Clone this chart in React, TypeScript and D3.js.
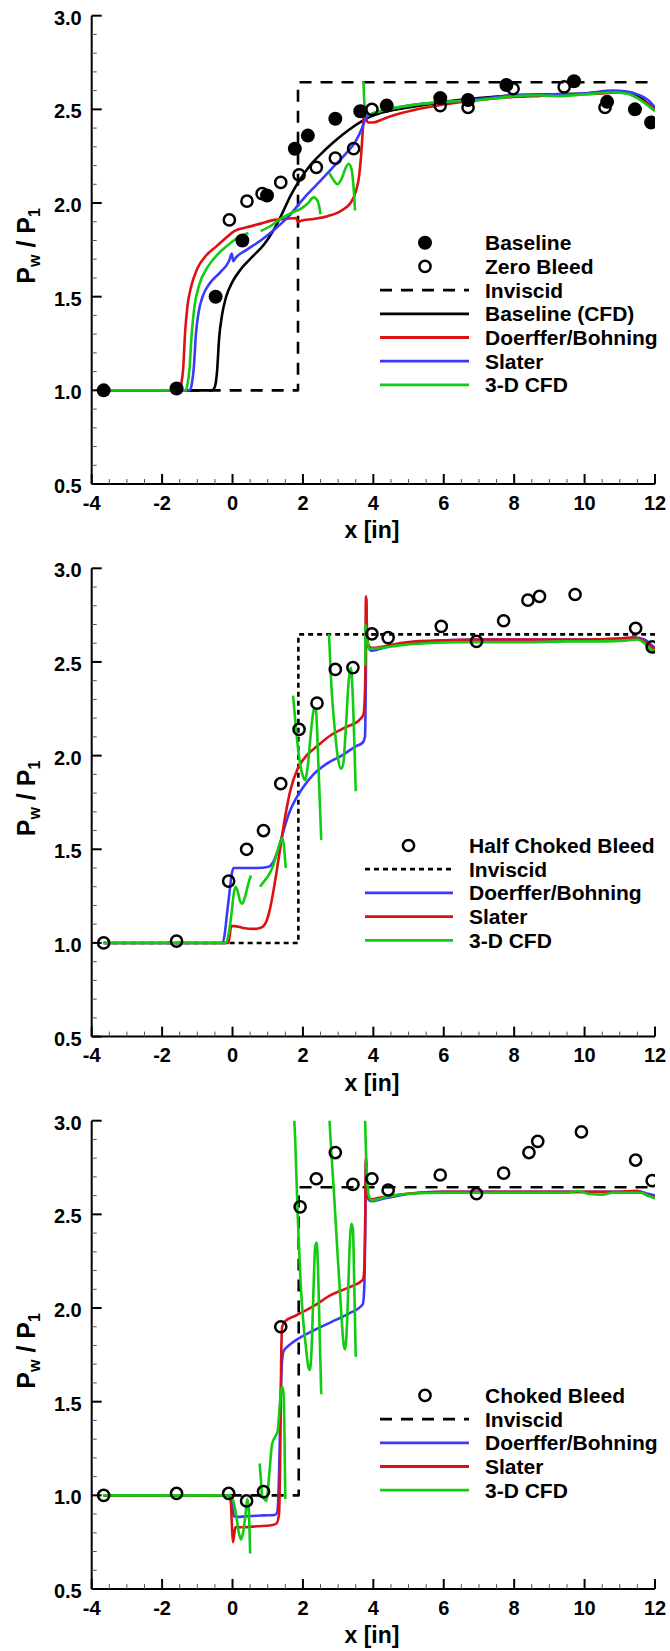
import React from 'react';
import * as d3 from 'd3';

type Pt = [number, number];

// ---------- axes ----------
const xTicks = [-4, -2, 0, 2, 4, 6, 8, 10, 12];
const yTicks = [0.5, 1.0, 1.5, 2.0, 2.5, 3.0];

// ---------- Panel 1 : Baseline / Zero bleed ----------
const p1Baseline: Pt[] = [
  [-3.66, 1.0], [-1.59, 1.01], [-0.48, 1.5], [0.28, 1.8], [0.98, 2.04], [1.77, 2.29],
  [2.14, 2.36], [2.92, 2.45], [3.63, 2.49], [4.38, 2.52], [5.9, 2.56], [6.69, 2.55],
  [7.78, 2.63], [9.7, 2.65], [10.64, 2.54], [11.43, 2.5], [11.89, 2.43],
];
const p1ZeroBleed: Pt[] = [
  [-0.09, 1.91], [0.41, 2.01], [0.84, 2.05], [1.37, 2.11], [1.89, 2.15], [2.38, 2.19],
  [2.92, 2.24], [3.44, 2.29], [3.96, 2.5], [5.9, 2.52], [6.69, 2.51], [7.97, 2.61],
  [9.42, 2.62], [10.58, 2.51],
];
const p1Inviscid: Pt[] = [[-3.66, 1.0], [1.86, 1.0], [1.86, 2.645], [12, 2.645]];
const p1BaselineCFD: Pt[] = [
  [-3.66, 1.0], [-0.58, 1.0], [-0.5, 1.02], [-0.44, 1.1], [-0.38, 1.28], [-0.3, 1.4],
  [-0.18, 1.5], [0.0, 1.58], [0.25, 1.65], [0.6, 1.72], [0.9, 1.78], [1.15, 1.85],
  [1.4, 1.94], [1.65, 2.04], [1.9, 2.12], [2.2, 2.2], [2.5, 2.26], [2.9, 2.33],
  [3.3, 2.39], [3.7, 2.44], [3.9, 2.46], [4.2, 2.48], [5.0, 2.51], [6.0, 2.54],
  [7.0, 2.56], [8.0, 2.575], [9.0, 2.58], [10.0, 2.585], [10.8, 2.595], [11.2, 2.59],
  [11.5, 2.57], [11.8, 2.53], [12, 2.5],
];
const p1Doerffer: Pt[] = [
  [-3.66, 1.0], [-1.52, 1.0], [-1.46, 1.03], [-1.4, 1.12], [-1.35, 1.3], [-1.28, 1.45],
  [-1.18, 1.55], [-1.0, 1.65], [-0.75, 1.72], [-0.45, 1.77], [-0.15, 1.82], [0.05, 1.85],
  [0.4, 1.87], [0.8, 1.89], [1.2, 1.91], [1.5, 1.915], [1.8, 1.92], [1.86, 1.9],
  [1.95, 1.905], [2.3, 1.915], [2.7, 1.93], [3.1, 1.96], [3.35, 2.0], [3.5, 2.06],
  [3.6, 2.15], [3.67, 2.3], [3.72, 2.45], [3.75, 2.52], [3.78, 2.47], [3.85, 2.43],
  [4.0, 2.43], [4.3, 2.45], [4.8, 2.48], [5.5, 2.51], [6.5, 2.54], [7.5, 2.56],
  [8.5, 2.57], [9.5, 2.58], [10.5, 2.585], [11.0, 2.59], [11.3, 2.58], [11.6, 2.55],
  [11.85, 2.52], [12, 2.5],
];
const p1Slater: Pt[] = [
  [-3.66, 1.0], [-1.22, 1.0], [-1.16, 1.03], [-1.1, 1.12], [-1.04, 1.3], [-0.96, 1.42],
  [-0.85, 1.5], [-0.65, 1.57], [-0.35, 1.63], [-0.1, 1.69], [-0.02, 1.73], [0.02, 1.69],
  [0.1, 1.71], [0.4, 1.75], [0.8, 1.8], [1.2, 1.86], [1.6, 1.93], [2.0, 2.02],
  [2.4, 2.1], [2.8, 2.18], [3.2, 2.26], [3.5, 2.33], [3.7, 2.41], [3.8, 2.46],
  [3.9, 2.47], [4.2, 2.49], [5.0, 2.52], [6.0, 2.54], [7.0, 2.555], [8.0, 2.575],
  [9.0, 2.58], [10.0, 2.585], [10.8, 2.6], [11.2, 2.595], [11.5, 2.58], [11.8, 2.55],
  [12, 2.51],
];
const p1CFD3DA: Pt[] = [
  [-3.66, 1.0], [-1.34, 1.0], [-1.28, 1.03], [-1.22, 1.12], [-1.16, 1.3], [-1.08, 1.45],
  [-0.95, 1.56], [-0.7, 1.66], [-0.4, 1.73], [-0.1, 1.78], [0.2, 1.82], [0.45, 1.84],
];
const p1CFD3DB: Pt[] = [
  [0.8, 1.85], [1.1, 1.88], [1.4, 1.92], [1.7, 1.95], [1.95, 1.97], [2.15, 2.0],
  [2.3, 2.03], [2.42, 2.01], [2.5, 1.94],
];
const p1CFD3DC: Pt[] = [
  [2.75, 2.16], [2.88, 2.12], [2.98, 2.1], [3.1, 2.13], [3.22, 2.19], [3.3, 2.21],
  [3.38, 2.18], [3.44, 2.08], [3.48, 1.96],
];
const p1CFD3DD: Pt[] = [
  [3.72, 2.65], [3.74, 2.55], [3.78, 2.49], [3.85, 2.47], [4.0, 2.48], [4.4, 2.5],
  [5.0, 2.52], [6.0, 2.54], [7.0, 2.55], [8.0, 2.57], [8.7, 2.575], [9.2, 2.57],
  [10.0, 2.58], [10.8, 2.59], [11.2, 2.585], [11.5, 2.56], [11.8, 2.52], [12, 2.49],
];

// ---------- Panel 2 : Half choked bleed ----------
const p2HalfChoked: Pt[] = [
  [-3.66, 1.0], [-1.59, 1.01], [-0.11, 1.33], [0.4, 1.5], [0.88, 1.6], [1.37, 1.85],
  [1.89, 2.14], [2.4, 2.28], [2.92, 2.46], [3.42, 2.47], [3.96, 2.65], [4.42, 2.63],
  [5.93, 2.69], [6.93, 2.61], [7.7, 2.72], [8.39, 2.83], [8.72, 2.85], [9.73, 2.86],
  [11.45, 2.68], [11.92, 2.58],
];
const p2Inviscid: Pt[] = [[-3.66, 1.0], [1.87, 1.0], [1.87, 2.647], [12, 2.647]];
const p2Doerffer: Pt[] = [
  [-3.66, 1.0], [-0.28, 1.0], [-0.22, 1.05], [-0.16, 1.15], [-0.08, 1.28], [-0.02, 1.37],
  [0.03, 1.4], [0.3, 1.4], [0.7, 1.4], [1.0, 1.405], [1.15, 1.43], [1.3, 1.5],
  [1.45, 1.6], [1.6, 1.69], [1.8, 1.77], [2.0, 1.83], [2.3, 1.9], [2.7, 1.96],
  [3.1, 2.0], [3.5, 2.05], [3.7, 2.07], [3.76, 2.1], [3.79, 2.5], [3.8, 2.84],
  [3.82, 2.65], [3.86, 2.58], [3.95, 2.56], [4.2, 2.57], [4.6, 2.59], [5.2, 2.605],
  [6, 2.615], [7, 2.62], [8, 2.62], [9, 2.62], [10, 2.62], [11, 2.625], [11.4, 2.63],
  [11.7, 2.62], [11.9, 2.59], [12, 2.575],
];
const p2Slater: Pt[] = [
  [-3.66, 1.0], [-0.12, 1.0], [-0.08, 1.04], [-0.04, 1.09], [0.05, 1.09], [0.3, 1.08],
  [0.6, 1.075], [0.78, 1.08], [0.92, 1.1], [1.05, 1.17], [1.2, 1.32], [1.35, 1.5],
  [1.5, 1.68], [1.65, 1.82], [1.85, 1.93], [2.1, 2.0], [2.4, 2.05], [2.8, 2.11],
  [3.2, 2.15], [3.6, 2.19], [3.72, 2.22], [3.77, 2.4], [3.79, 2.85], [3.82, 2.66],
  [3.86, 2.59], [3.95, 2.575], [4.2, 2.58], [4.6, 2.595], [5.2, 2.61], [6, 2.615],
  [7, 2.62], [8, 2.62], [9, 2.62], [10, 2.62], [11, 2.625], [11.4, 2.63], [11.7, 2.61],
  [11.9, 2.58], [12, 2.565],
];
const p2CFD3DA: Pt[] = [
  [-3.66, 1.0], [-0.2, 1.0], [-0.1, 1.06], [-0.02, 1.17], [0.04, 1.27], [0.08, 1.3],
  [0.14, 1.28], [0.22, 1.22], [0.28, 1.21], [0.36, 1.25], [0.44, 1.31], [0.52, 1.36],
];
const p2CFD3DB: Pt[] = [
  [0.78, 1.3], [0.9, 1.33], [1.02, 1.36], [1.15, 1.41], [1.26, 1.48], [1.36, 1.54],
  [1.42, 1.56], [1.47, 1.5], [1.51, 1.4],
];
const p2CFD3DC: Pt[] = [
  [1.72, 2.32], [1.8, 2.15], [1.9, 1.98], [2.0, 1.89], [2.06, 1.87], [2.14, 1.95],
  [2.24, 2.15], [2.32, 2.25], [2.37, 2.24], [2.43, 2.0], [2.48, 1.75], [2.52, 1.55],
];
const p2CFD3DD: Pt[] = [
  [2.74, 2.65], [2.8, 2.4], [2.9, 2.15], [3.0, 1.98], [3.08, 1.93], [3.14, 1.95],
  [3.22, 2.15], [3.3, 2.4], [3.36, 2.47], [3.42, 2.3], [3.47, 2.0], [3.5, 1.81],
];
const p2CFD3DE: Pt[] = [
  [3.77, 2.48], [3.78, 2.7], [3.82, 2.62], [3.9, 2.57], [4.2, 2.575], [4.8, 2.59],
  [5.5, 2.6], [6.5, 2.605], [7.5, 2.605], [8.5, 2.605], [9.5, 2.61], [10.5, 2.61],
  [11.2, 2.615], [11.5, 2.62], [11.7, 2.6], [11.85, 2.57], [12, 2.56],
];

// ---------- Panel 3 : Choked bleed ----------
const p3Choked: Pt[] = [
  [-3.66, 1.0], [-1.59, 1.01], [-0.11, 1.01], [0.4, 0.97], [0.88, 1.02], [1.37, 1.9],
  [1.92, 2.54], [2.38, 2.69], [2.92, 2.83], [3.42, 2.66], [3.96, 2.69], [4.42, 2.63],
  [5.9, 2.71], [6.93, 2.61], [7.7, 2.72], [8.42, 2.83], [8.67, 2.89], [9.91, 2.94],
  [11.45, 2.79], [11.92, 2.68],
];
const p3Inviscid: Pt[] = [[-3.66, 1.0], [1.88, 1.0], [1.88, 2.645], [12, 2.645]];
const p3Doerffer: Pt[] = [
  [-3.66, 1.0], [-0.08, 1.0], [-0.03, 0.98], [0.0, 0.93], [0.04, 0.89], [0.1, 0.885],
  [0.5, 0.89], [0.9, 0.893], [1.2, 0.895], [1.27, 0.91], [1.32, 1.1], [1.36, 1.45],
  [1.4, 1.7], [1.45, 1.77], [1.6, 1.8], [1.9, 1.84], [2.3, 1.88], [2.8, 1.925],
  [3.3, 1.97], [3.7, 2.02], [3.74, 2.1], [3.77, 2.4], [3.79, 2.79], [3.82, 2.65],
  [3.86, 2.58], [3.95, 2.57], [4.2, 2.58], [4.7, 2.6], [5.3, 2.615], [6, 2.62],
  [7, 2.62], [8, 2.62], [9, 2.62], [10, 2.62], [11, 2.62], [11.5, 2.625], [11.8, 2.61],
  [12, 2.6],
];
const p3Slater: Pt[] = [
  [-3.66, 1.0], [-0.1, 1.0], [-0.05, 0.97], [-0.02, 0.85], [0.01, 0.75], [0.04, 0.78],
  [0.08, 0.83], [0.3, 0.83], [0.7, 0.835], [1.1, 0.84], [1.25, 0.85], [1.32, 0.9],
  [1.36, 1.3], [1.38, 1.7], [1.41, 1.9], [1.5, 1.93], [1.8, 1.96], [2.3, 2.01],
  [2.8, 2.07], [3.3, 2.11], [3.7, 2.15], [3.74, 2.2], [3.77, 2.5], [3.79, 2.8],
  [3.82, 2.64], [3.86, 2.59], [3.95, 2.58], [4.2, 2.59], [4.7, 2.605], [5.3, 2.615],
  [6, 2.62], [7, 2.62], [8, 2.62], [9, 2.62], [10, 2.62], [11, 2.62], [11.5, 2.625],
  [11.8, 2.6], [12, 2.59],
];
const p3CFD3DA: Pt[] = [
  [-3.66, 1.0], [-0.06, 1.0], [0.02, 0.97], [0.1, 0.9], [0.18, 0.8], [0.24, 0.765],
  [0.3, 0.8], [0.37, 0.9], [0.42, 0.98], [0.46, 0.93], [0.5, 0.69],
];
const p3CFD3DB: Pt[] = [
  [0.77, 1.17], [0.8, 1.1], [0.84, 1.0], [0.9, 0.98], [0.96, 0.97], [1.0, 1.02],
  [1.06, 1.15], [1.12, 1.27], [1.2, 1.31], [1.28, 1.34], [1.35, 1.5], [1.4, 1.58],
  [1.44, 1.56], [1.47, 1.4], [1.5, 0.98],
];
const p3CFD3DC: Pt[] = [
  [1.74, 3.05], [1.78, 2.9], [1.85, 2.5], [1.93, 2.15], [2.0, 1.95], [2.08, 1.8],
  [2.15, 1.69], [2.2, 1.67], [2.25, 1.8], [2.3, 2.1], [2.35, 2.33], [2.39, 2.35],
  [2.43, 2.2], [2.47, 1.9], [2.52, 1.54],
];
const p3CFD3DD: Pt[] = [
  [2.74, 3.05], [2.8, 2.85], [2.88, 2.62], [2.98, 2.3], [3.08, 2.0], [3.16, 1.8],
  [3.2, 1.78], [3.26, 1.95], [3.32, 2.3], [3.38, 2.45], [3.42, 2.42], [3.46, 2.1],
  [3.5, 1.74],
];
const p3CFD3DE: Pt[] = [
  [3.76, 3.05], [3.78, 2.9], [3.82, 2.7], [3.87, 2.6], [3.95, 2.575], [4.3, 2.59],
  [5, 2.61], [6, 2.615], [7, 2.615], [8, 2.615], [9, 2.615], [9.5, 2.615], [9.8, 2.625],
  [10.1, 2.61], [10.5, 2.605], [10.8, 2.615], [11.2, 2.615], [11.6, 2.615], [11.8, 2.6],
  [12, 2.585],
];

// ---------- styling ----------
const RED = '#dd1111';
const BLUE = '#3a3aff';
const GREEN = '#11cc11';
const BLACK = '#000000';
const FONT = '"Liberation Sans", Arial, Helvetica, sans-serif';

const X0 = 91.7;
const X1 = 655;
const PH = 468.3;

type LineSpec = { segs: Pt[][]; color: string; dash?: string; width?: number };
type SymSpec = { pts: Pt[]; filled: boolean };
type LegendItem = { label: string; kind: 'filled' | 'open' | 'line'; color?: string; dash?: string };
type PanelProps = {
  id: string;
  top: number;
  lines: LineSpec[];
  symbols: SymSpec[];
  legend: LegendItem[];
  legendLine: [number, number];
  legendMarkX: number;
  legendTextX: number;
  legendY: number;
};

function Panel(p: PanelProps) {
  const x = d3.scaleLinear().domain([-4, 12]).range([X0, X1]);
  const y = d3.scaleLinear().domain([0.5, 3.0]).range([p.top + PH, p.top]);
  const line = d3
    .line<Pt>()
    .x((d) => x(d[0]))
    .y((d) => y(d[1]))
    .curve(d3.curveMonotoneX);
  const straight = d3
    .line<Pt>()
    .x((d) => x(d[0]))
    .y((d) => y(d[1]));
  const yMinor = d3.range(5, 31).map((v) => v / 10).filter((v) => Math.round(v * 10) % 5 !== 0);
  const xMinor = d3.range(-8, 25).map((v) => v / 2).filter((v) => Math.round(v * 2) % 4 !== 0);
  const bottom = y(0.5);
  const step = 23.7;
  return (
    <g>
      <defs>
        <clipPath id={p.id}>
          <rect x={X0} y={p.top} width={X1 - X0} height={PH} />
        </clipPath>
      </defs>
      <g clipPath={`url(#${p.id})`}>
        {p.lines.map((l, i) =>
          l.segs.map((s, j) => (
            <path
              key={`${i}-${j}`}
              d={(l.dash ? straight(s) : line(s)) || ''}
              fill="none"
              stroke={l.color}
              strokeWidth={l.width ?? 2.6}
              strokeDasharray={l.dash}
              strokeLinejoin="round"
            />
          ))
        )}
        {p.symbols.map((s, i) =>
          s.pts.map((d, j) =>
            s.filled ? (
              <circle key={`s${i}-${j}`} cx={x(d[0])} cy={y(d[1])} r={7} fill="#000" />
            ) : (
              <circle key={`s${i}-${j}`} cx={x(d[0])} cy={y(d[1])} r={5.6} fill="none" stroke="#000" strokeWidth={2.5} />
            )
          )
        )}
      </g>
      {/* axes */}
      <line x1={X0} x2={X0} y1={p.top} y2={bottom} stroke="#000" strokeWidth={2} />
      <line x1={X0} x2={X1} y1={bottom} y2={bottom} stroke="#000" strokeWidth={2} />
      {yTicks.map((t) => (
        <g key={`yt${t}`}>
          <line x1={X0} x2={X0 + 10} y1={y(t)} y2={y(t)} stroke="#000" strokeWidth={2} />
          <text x={X0 - 10} y={y(t) + 9} textAnchor="end" fontSize={20} fontWeight="bold" fontFamily={FONT}>
            {t.toFixed(1)}
          </text>
        </g>
      ))}
      {yMinor.map((t) => (
        <line key={`ym${t}`} x1={X0} x2={X0 + 5} y1={y(t)} y2={y(t)} stroke="#555" strokeWidth={1} />
      ))}
      {xTicks.map((t) => (
        <g key={`xt${t}`}>
          <line x1={x(t)} x2={x(t)} y1={bottom} y2={bottom - 10} stroke="#000" strokeWidth={2} />
          <text x={x(t)} y={bottom + 25.5} textAnchor="middle" fontSize={20} fontWeight="bold" fontFamily={FONT}>
            {t}
          </text>
        </g>
      ))}
      {xMinor.map((t) => (
        <line key={`xm${t}`} x1={x(t)} x2={x(t)} y1={bottom} y2={bottom - 5} stroke="#555" strokeWidth={1} />
      ))}
      <text x={372} y={bottom + 54} textAnchor="middle" fontSize={23} fontWeight="bold" fontFamily={FONT}>
        x [in]
      </text>
      <text
        transform={`translate(35,${p.top + PH / 2 - 4}) rotate(-90)`}
        textAnchor="middle"
        fontSize={25}
        fontWeight="bold"
        fontFamily={FONT}
      >
        P<tspan fontSize={16} dy={5}>w</tspan>
        <tspan dy={-5}> / P</tspan>
        <tspan fontSize={16} dy={5}>1</tspan>
      </text>
      {/* legend */}
      {p.legend.map((it, i) => {
        const ly = p.legendY + i * step;
        return (
          <g key={`lg${i}`}>
            {it.kind === 'filled' && <circle cx={p.legendMarkX} cy={ly} r={7} fill="#000" />}
            {it.kind === 'open' && (
              <circle cx={p.legendMarkX} cy={ly} r={5.6} fill="none" stroke="#000" strokeWidth={2.5} />
            )}
            {it.kind === 'line' && (
              <line
                x1={p.legendLine[0]}
                x2={p.legendLine[1]}
                y1={ly}
                y2={ly}
                stroke={it.color}
                strokeWidth={2.8}
                strokeDasharray={it.dash}
              />
            )}
            <text x={p.legendTextX} y={ly + 7.5} fontSize={21} fontWeight="bold" fontFamily={FONT}>
              {it.label}
            </text>
          </g>
        );
      })}
    </g>
  );
}

export default function App() {
  const DASH = '12,9';
  const DOT = '5,4';
  return (
    <svg
      width={670}
      height={1651}
      viewBox="0 0 670 1651"
      style={{ position: 'absolute', left: 0, top: 0, display: 'block', background: '#fff' }}
    >
      <rect x={0} y={0} width={670} height={1651} fill="#fff" />
      <Panel
        id="clip1"
        top={15.7}
        lines={[
          { segs: [p1Inviscid], color: BLACK, dash: DASH, width: 2.6 },
          { segs: [p1BaselineCFD], color: BLACK },
          { segs: [p1Doerffer], color: RED },
          { segs: [p1Slater], color: BLUE },
          { segs: [p1CFD3DA, p1CFD3DB, p1CFD3DC, p1CFD3DD], color: GREEN },
        ]}
        symbols={[
          { pts: p1Baseline, filled: true },
          { pts: p1ZeroBleed, filled: false },
        ]}
        legend={[
          { label: 'Baseline', kind: 'filled' },
          { label: 'Zero Bleed', kind: 'open' },
          { label: 'Inviscid', kind: 'line', color: BLACK, dash: DASH },
          { label: 'Baseline (CFD)', kind: 'line', color: BLACK },
          { label: 'Doerffer/Bohning', kind: 'line', color: RED },
          { label: 'Slater', kind: 'line', color: BLUE },
          { label: '3-D CFD', kind: 'line', color: GREEN },
        ]}
        legendLine={[380, 469]}
        legendMarkX={425}
        legendTextX={485}
        legendY={242.7}
      />
      <Panel
        id="clip2"
        top={568.3}
        lines={[
          { segs: [p2Inviscid], color: BLACK, dash: DOT, width: 2.6 },
          { segs: [p2Doerffer], color: BLUE },
          { segs: [p2Slater], color: RED },
          { segs: [p2CFD3DA, p2CFD3DB, p2CFD3DC, p2CFD3DD, p2CFD3DE], color: GREEN },
        ]}
        symbols={[{ pts: p2HalfChoked, filled: false }]}
        legend={[
          { label: 'Half Choked Bleed', kind: 'open' },
          { label: 'Inviscid', kind: 'line', color: BLACK, dash: DOT },
          { label: 'Doerffer/Bohning', kind: 'line', color: BLUE },
          { label: 'Slater', kind: 'line', color: RED },
          { label: '3-D CFD', kind: 'line', color: GREEN },
        ]}
        legendLine={[365, 453]}
        legendMarkX={408.5}
        legendTextX={469}
        legendY={845.5}
      />
      <Panel
        id="clip3"
        top={1120.7}
        lines={[
          { segs: [p3Inviscid], color: BLACK, dash: DASH, width: 2.6 },
          { segs: [p3Doerffer], color: BLUE },
          { segs: [p3Slater], color: RED },
          { segs: [p3CFD3DA, p3CFD3DB, p3CFD3DC, p3CFD3DD, p3CFD3DE], color: GREEN },
        ]}
        symbols={[{ pts: p3Choked, filled: false }]}
        legend={[
          { label: 'Choked Bleed', kind: 'open' },
          { label: 'Inviscid', kind: 'line', color: BLACK, dash: DASH },
          { label: 'Doerffer/Bohning', kind: 'line', color: BLUE },
          { label: 'Slater', kind: 'line', color: RED },
          { label: '3-D CFD', kind: 'line', color: GREEN },
        ]}
        legendLine={[380, 469]}
        legendMarkX={425}
        legendTextX={485}
        legendY={1395.4}
      />
    </svg>
  );
}
